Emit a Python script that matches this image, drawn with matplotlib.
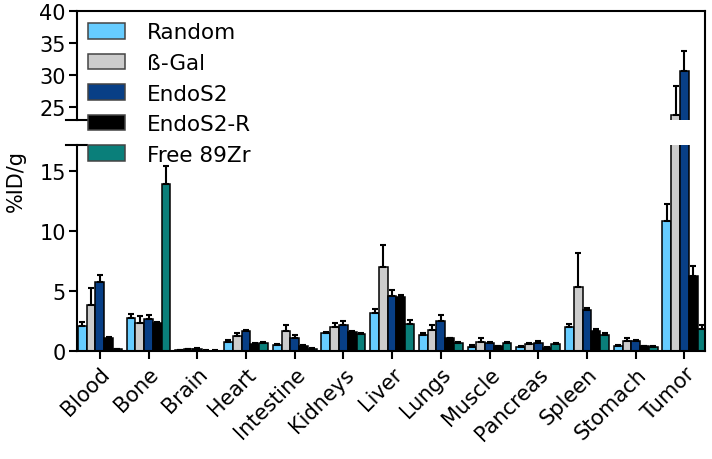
import numpy as np
import matplotlib
matplotlib.use('Agg')
import matplotlib.pyplot as plt
from matplotlib.lines import Line2D

plt.rcParams['font.family'] = ['DejaVu Sans']

organs = ['Blood', 'Bone', 'Brain', 'Heart', 'Intestine', 'Kidneys', 'Liver',
          'Lungs', 'Muscle', 'Pancreas', 'Spleen', 'Stomach', 'Tumor']
groups = ['Random', 'ß-Gal', 'EndoS2', 'EndoS2-R', 'Free 89Zr']
colors = ['#66CCFF', '#CCCCCC', '#083F86', '#000000', '#0A7F7A']

# mean %ID/g per group (columns follow organs)
random_mean = [2.08, 2.75, 0.08, 0.78, 0.50, 1.53, 3.20, 1.31, 0.33, 0.33, 2.00, 0.42, 10.86]
bgal_mean = [3.83, 2.33, 0.15, 1.25, 1.64, 2.00, 7.03, 1.72, 0.78, 0.61, 5.36, 0.86, 23.75]
endos2_mean = [5.75, 2.64, 0.20, 1.64, 1.08, 2.20, 4.56, 2.53, 0.64, 0.70, 3.42, 0.83, 30.6]
endos2r_mean = [1.06, 2.36, 0.03, 0.61, 0.44, 1.61, 4.53, 1.06, 0.42, 0.28, 1.67, 0.42, 6.25]
free_mean = [0.14, 13.97, 0.03, 0.64, 0.19, 1.39, 2.22, 0.67, 0.67, 0.56, 1.33, 0.36, 1.83]

# upper error (SD) per group
random_err = [0.32, 0.31, 0.02, 0.14, 0.08, 0.08, 0.27, 0.16, 0.17, 0.09, 0.25, 0.08, 1.39]
bgal_err = [1.45, 0.59, 0.03, 0.28, 0.53, 0.30, 1.80, 0.45, 0.30, 0.09, 2.78, 0.22, 4.55]
endos2_err = [0.62, 0.39, 0.05, 0.11, 0.23, 0.30, 0.50, 0.47, 0.11, 0.10, 0.14, 0.09, 3.15]
endos2r_err = [0.09, 0.04, 0.01, 0.03, 0.03, 0.06, 0.14, 0.05, 0.03, 0.03, 0.16, 0.03, 0.83]
free_err = [0.02, 1.43, 0.01, 0.14, 0.03, 0.14, 0.39, 0.05, 0.08, 0.11, 0.20, 0.08, 0.37]

means = [random_mean, bgal_mean, endos2_mean, endos2r_mean, free_mean]
errs = [random_err, bgal_err, endos2_err, endos2r_err, free_err]

fig = plt.figure(figsize=(7.12, 4.6), dpi=100)
left, right = 0.108, 0.990
ax_lo = fig.add_axes([left, 0.235, right - left, 0.683 - 0.235])
ax_hi = fig.add_axes([left, 0.737, right - left, 0.974 - 0.737])

x = np.arange(len(organs))
w = 0.18
for ax in (ax_lo, ax_hi):
    for i, (g, c) in enumerate(zip(groups, colors)):
        pos = x + (i - 2) * w
        ax.bar(pos, means[i], w, color=c, edgecolor='black', linewidth=1.1,
               label=g, zorder=2)
        ax.errorbar(pos, means[i], yerr=[np.zeros(len(organs)), errs[i]],
                    fmt='none', ecolor='black', elinewidth=1.5, capsize=2.5,
                    capthick=1.5, zorder=3)
    ax.set_xlim(-0.47, 12.42)
    ax.tick_params(axis='both', labelsize=15, width=1.5, length=6, direction='out')
    for s in ax.spines.values():
        s.set_linewidth(1.5)
    ax.spines['right'].set_visible(False)

ax_lo.set_ylim(0, 17.2)
ax_lo.set_yticks([0, 5, 10, 15])
ax_lo.spines['top'].set_visible(False)
ax_lo.set_xticks(x)
ax_lo.set_xticklabels(organs, rotation=45, ha='right', rotation_mode='anchor')
ax_lo.tick_params(axis='x', pad=3)
ax_lo.tick_params(axis='y', pad=2)

ax_hi.set_ylim(23, 40)
ax_hi.set_yticks([25, 30, 35, 40])
ax_hi.spines['bottom'].set_visible(False)
ax_hi.set_xticks([])
ax_hi.tick_params(axis='y', pad=2)

# continuous right frame line and break marks
fig.add_artist(Line2D([right, right], [0.235, 0.974], color='black', lw=1.5,
                      transform=fig.transFigure))
for yb in (0.737, 0.683):
    fig.add_artist(Line2D([left - 0.015, left + 0.014], [yb, yb], color='black',
                          lw=1.5, transform=fig.transFigure))

fig.text(0.022, 0.607, '%ID/g', rotation=90, va='center', ha='center', fontsize=15)

handles, labels = ax_hi.get_legend_handles_labels()
leg = fig.legend(handles, labels, loc='upper left', bbox_to_anchor=(0.1236, 0.949),
                 frameon=False, fontsize=15.5, handlelength=1.72, handleheight=0.74,
                 labelspacing=0.49, handletextpad=1.0, borderaxespad=0, borderpad=0)
for p in leg.get_patches():
    p.set_edgecolor('#444444')

fig.savefig('out.png', dpi=100)
